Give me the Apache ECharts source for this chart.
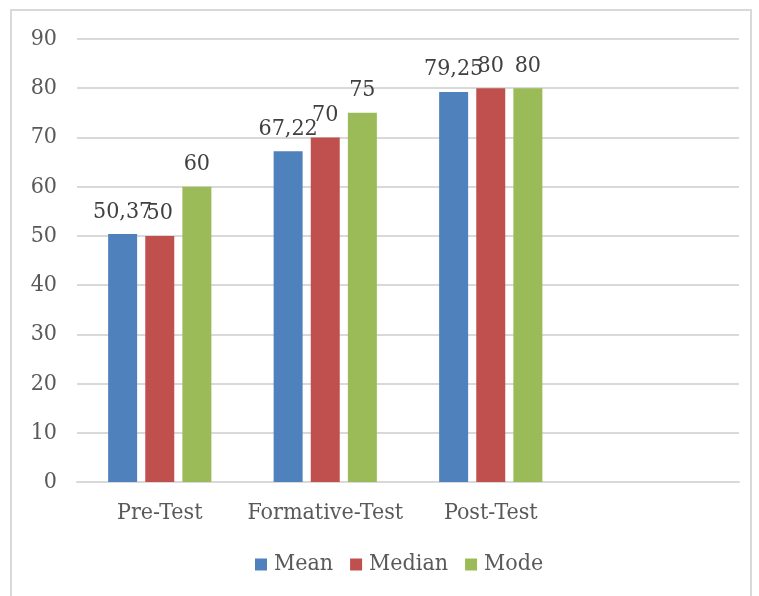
<!DOCTYPE html>
<html>
<head>
<meta charset="utf-8">
<script src="https://cdn.jsdelivr.net/npm/echarts@6/dist/echarts.min.js"></script>
<style>
  html, body { margin: 0; padding: 0; background: #fff; }
  #chart { width: 759px; height: 596px; }
</style>
</head>
<body>
<div id="chart"></div>
<script>
// data
var categories = ['Pre-Test', 'Formative-Test', 'Post-Test', ''];
var meanValues = [50.37, 67.22, 79.25];
var medianValues = [50, 70, 80];
var modeValues = [60, 75, 80];
var seriesNames = ['Mean', 'Median', 'Mode'];
var seriesColors = ['#4f81bd', '#c0504d', '#9bbb59'];

var FONT = '"DejaVu Serif Condensed", "DejaVu Serif", serif';

function fmt(v) {
  return String(v).replace('.', ',');
}

var chart = echarts.init(document.getElementById('chart'));

var allValues = [meanValues, medianValues, modeValues];
var series = seriesNames.map(function (name, i) {
  return {
    name: name,
    type: 'bar',
    data: allValues[i],
    barWidth: 29,
    barGap: '28%',
    itemStyle: { color: seriesColors[i] },
    label: {
      show: true,
      position: 'top',
      distance: 11,
      fontFamily: FONT,
      fontSize: 23,
      color: '#404040',
      formatter: function (p) { return fmt(p.value); }
    }
  };
});

chart.setOption({
  animation: false,
  textStyle: { fontFamily: FONT },
  graphic: [{
    type: 'rect',
    shape: { x: 11, y: 10, width: 740, height: 600 },
    style: { fill: 'none', stroke: '#d9d9d9', lineWidth: 2 }
  }],
  legend: {
    data: seriesNames,
    bottom: 15,
    left: 250,
    itemWidth: 12,
    itemHeight: 12,
    itemGap: 17,
    icon: 'rect',
    textStyle: { fontFamily: FONT, fontSize: 23, color: '#595959', padding: [0, 0, 0, 2] }
  },
  grid: { left: 77, right: 20, top: 39, bottom: 114 },
  xAxis: {
    type: 'category',
    data: categories,
    axisTick: { show: false },
    axisLine: { lineStyle: { color: '#d9d9d9', width: 2 } },
    axisLabel: { interval: 0, fontFamily: FONT, fontSize: 23, color: '#595959', margin: 20 }
  },
  yAxis: {
    type: 'value',
    min: 0,
    max: 90,
    interval: 10,
    axisLine: { show: false },
    axisTick: { show: false },
    splitLine: { lineStyle: { color: '#d9d9d9', width: 2 } },
    axisLabel: { fontFamily: FONT, fontSize: 23, color: '#595959', margin: 20 }
  },
  series: series
});
</script>
</body>
</html>
